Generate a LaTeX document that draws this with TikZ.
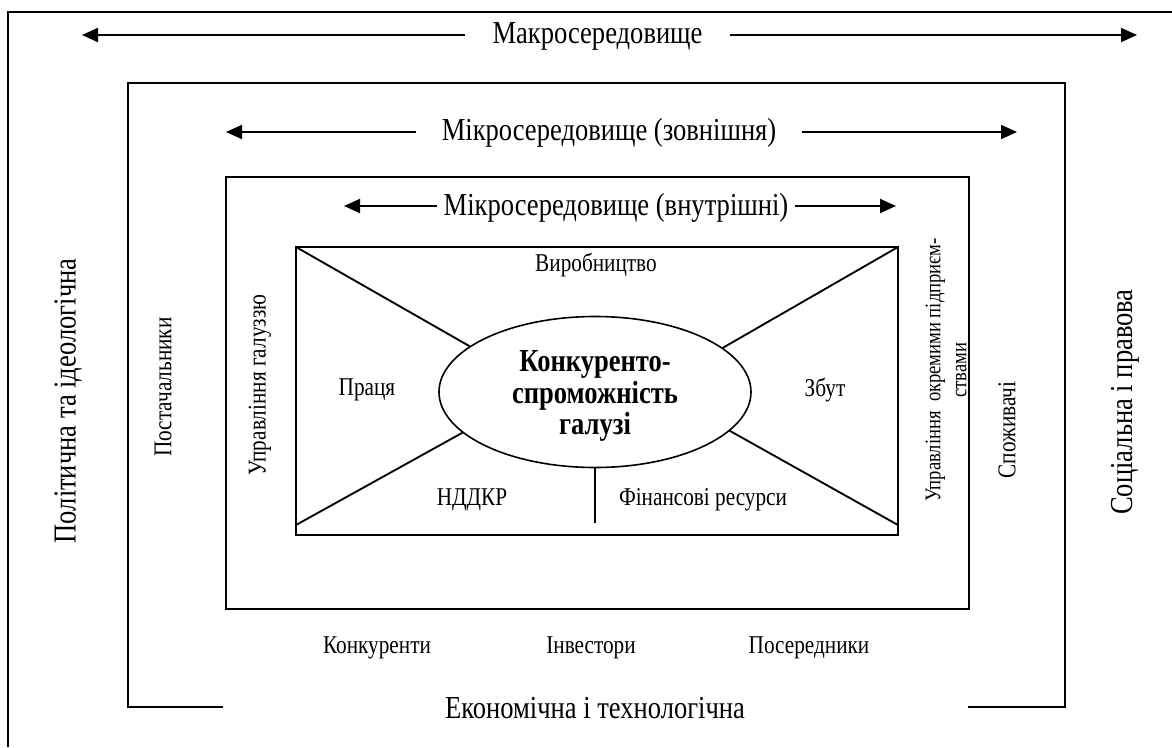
\documentclass[tikz,border=0pt]{standalone}
\usepackage{fontspec}
\setmainfont[FakeStretch=0.83]{Liberation Serif}
\usetikzlibrary{shapes.geometric,arrows.meta}
\tikzset{
  frame/.style={line width=1.4pt},
  arr/.style={line width=1.4pt,-{Triangle[length=12pt,width=10.5pt]}},
  big/.style={font=\fontsize{24}{28}\selectfont,inner sep=0pt},
  small/.style={font=\fontsize{19.2}{22}\selectfont,inner sep=0pt},
  gaplabel/.style={big,minimum height=12pt},
}
\begin{document}
\begin{tikzpicture}[x=0.75pt,y=-0.75pt]
\useasboundingbox (0,0) rectangle (1172,747);
% outer frame (only top and left visible)
\draw[frame] (8,747) -- (8,12) -- (1172,12);
% middle frame with gaps at bottom
\draw[frame] (223,707) -- (128,707) -- (128,83) -- (1065,83) -- (1065,707) -- (968,707);
% inner frame
\draw[frame] (226,177) rectangle (969,609);

% arrow labels
\node[gaplabel,minimum width=198.75pt] (macro) at (597.5,36) {Макросередовище};
\coordinate (macroL) at (82,35);
\coordinate (macroR) at (1137,35);
\draw[arr] (macro.west |- macroL) -- (macroL);
\draw[arr] (macro.east |- macroR) -- (macroR);

\node[gaplabel,minimum width=288.75pt] (microext) at (609,133) {Мікросередовище (зовнішня)};
\coordinate (microextL) at (226,132);
\coordinate (microextR) at (1017,132);
\draw[arr] (microext.west |- microextL) -- (microextL);
\draw[arr] (microext.east |- microextR) -- (microextR);

\node[gaplabel,minimum width=268.5pt] (microint) at (616,208) {Мікросередовище (внутрішні)};
\coordinate (microintL) at (344,206);
\coordinate (microintR) at (896,206);
\draw[arr] (microint.west |- microintL) -- (microintL);
\draw[arr] (microint.east |- microintR) -- (microintR);

% central box
\node[draw,frame,minimum width=451.5pt,minimum height=216pt,inner sep=0pt,outer sep=0pt] (box) at (597,391) {};
\node[ellipse,draw,line width=1.2pt,minimum width=234pt,minimum height=113.25pt,inner sep=0pt,outer sep=0pt] (core) at (595,392) {};
\node[font=\bfseries\fontsize{24}{23.5}\selectfont,align=center,inner sep=0pt] (coretext) at ([yshift=-3pt]core.center) {Конкуренто-\\спроможність\\галузі};

\draw[frame] (box.north west) -- (core.160);
\draw[frame] (box.north east) -- (core.19);
\draw[frame] ([yshift=7.5pt]box.south west) -- (core.197);
\draw[frame] ([yshift=7.5pt]box.south east) -- (core.344);
\coordinate (vbot) at (595,523);
\draw[frame] (core.south) -- (vbot);

% inner labels
\node[small] (vyr) at (596,265) {Виробництво};
\node[small] (pratsia) at (367,390) {Праця};
\node[small] (zbut) at (825,390) {Збут};
\node[small] (nddkr) at (472,500) {НДДКР};
\node[small] (fin) at (703,500) {Фінансові ресурси};

% vertical labels
\node[big,rotate=90] (polit) at (68,401) {Політична та ідеологічна};
\node[small,rotate=90] (post) at (163,387) {Постачальники};
\node[small,rotate=90] (uprg) at (260,385) {Управління галуззю};
\node[font=\fontsize{16.8}{19.5}\selectfont,inner sep=0pt,rotate=90,align=center] (uprp) at (946,370) {Управління\ \ окремими підприєм-\\ствами};
\node[small,rotate=90] (spoz) at (1007,430) {Споживачі};
\node[big,rotate=90] (soc) at (1125,402) {Соціальна і правова};

% bottom labels
\node[small] (konk) at (377,648) {Конкуренти};
\node[small] (inv) at (591,648) {Інвестори};
\node[small] (poser) at (809,648) {Посередники};
\node[big] (econ) at (595,708) {Економічна і технологічна};
\end{tikzpicture}
\end{document}
